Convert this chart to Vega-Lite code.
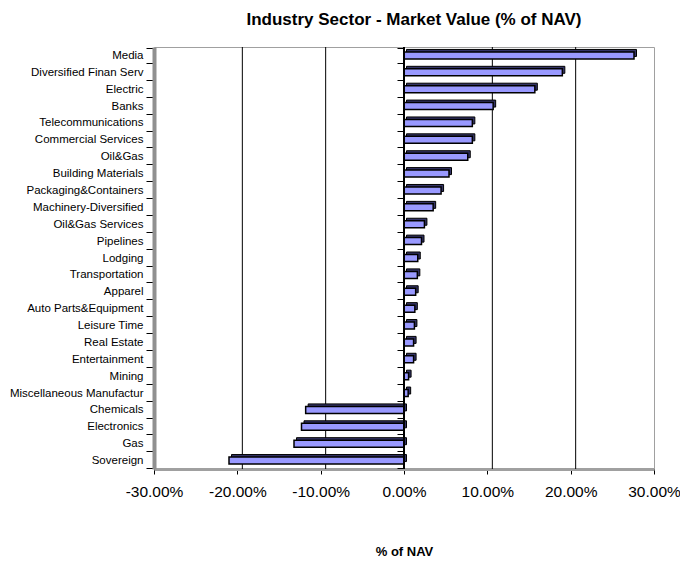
{
  "$schema": "https://vega.github.io/schema/vega-lite/v6.json",
  "width": 500,
  "height": 422,
  "autosize": {"type": "none"},
  "padding": {"left": 154, "top": 47, "right": 26, "bottom": 92},
  "background": "white",
  "config": {
    "font": "Liberation Sans",
    "view": {"stroke": "#a0a0a0", "strokeWidth": 1}
  },
  "title": {
    "text": "Industry Sector - Market Value (% of NAV)",
    "fontSize": 17,
    "fontWeight": "bold",
    "font": "Liberation Sans",
    "color": "black",
    "offset": 12,
    "dx": 10,
    "anchor": "middle"
  },
  "datasets": {
    "sectors": [
      {"sector": "Media", "value": 0.276},
      {"sector": "Diversified Finan Serv", "value": 0.190},
      {"sector": "Electric", "value": 0.157},
      {"sector": "Banks", "value": 0.107},
      {"sector": "Telecommunications", "value": 0.082},
      {"sector": "Commercial Services", "value": 0.082},
      {"sector": "Oil&Gas", "value": 0.0765},
      {"sector": "Building Materials", "value": 0.054},
      {"sector": "Packaging&Containers", "value": 0.0445},
      {"sector": "Machinery-Diversified", "value": 0.035},
      {"sector": "Oil&Gas Services", "value": 0.0245},
      {"sector": "Pipelines", "value": 0.021},
      {"sector": "Lodging", "value": 0.0165},
      {"sector": "Transportation", "value": 0.016},
      {"sector": "Apparel", "value": 0.014},
      {"sector": "Auto Parts&Equipment", "value": 0.013},
      {"sector": "Leisure Time", "value": 0.0125},
      {"sector": "Real Estate", "value": 0.0115},
      {"sector": "Entertainment", "value": 0.0115},
      {"sector": "Mining", "value": 0.0055},
      {"sector": "Miscellaneous Manufactur", "value": 0.005},
      {"sector": "Chemicals", "value": -0.118},
      {"sector": "Electronics", "value": -0.123},
      {"sector": "Gas", "value": -0.132},
      {"sector": "Sovereign", "value": -0.210}
    ],
    "grid": [{"v": -0.2}, {"v": -0.1}, {"v": 0.1}, {"v": 0.2}]
  },
  "resolve": {"axis": {"y": "independent"}},
  "layer": [
    {
      "data": {"name": "grid"},
      "mark": {"type": "rule", "color": "black", "strokeWidth": 1, "xOffset": 5},
      "encoding": {
        "x": {
          "field": "v",
          "type": "quantitative",
          "scale": {"domain": [-0.3, 0.3], "nice": false},
          "axis": {
            "values": [-0.3, -0.2, -0.1, 0, 0.1, 0.2, 0.3],
            "labelExpr": "(datum.value < 0 ? '-' : '') + format(abs(datum.value), '.2%')",
            "grid": false,
            "labelFlush": false,
            "labelOverlap": false,
            "title": "% of NAV",
            "titleFontSize": 13,
            "titleFontWeight": "bold",
            "titleColor": "black",
            "titlePadding": 46,
            "labelFontSize": 15.5,
            "labelColor": "black",
            "labelPadding": 10,
            "tickColor": "black",
            "tickSize": 5,
            "domainColor": "#a0a0a0",
            "domainWidth": 3
          }
        }
      }
    },
    {
      "data": {"name": "sectors"},
      "mark": {"type": "bar", "fill": "#333366", "stroke": "black", "strokeWidth": 1, "size": 7, "xOffset": 2.5, "x2Offset": 2.5, "yOffset": -2.5, "y2Offset": -2.5},
      "encoding": {
        "x": {"field": "value", "type": "quantitative"},
        "y": {
          "field": "sector",
          "type": "nominal",
          "sort": null,
          "axis": {
            "orient": "left",
            "title": null,
            "labelFontSize": 11.5,
            "labelColor": "black",
            "labelPadding": 3,
            "tickColor": "black",
            "tickSize": 8,
            "tickBand": "extent",
            "domainColor": "#909090",
            "domainWidth": 4
          }
        }
      }
    },
    {
      "data": {"name": "sectors"},
      "mark": {"type": "bar", "fill": "#9999FF", "stroke": "black", "strokeWidth": 1.5, "size": 7},
      "encoding": {
        "x": {"field": "value", "type": "quantitative"},
        "y": {
          "field": "sector",
          "type": "nominal",
          "sort": null,
          "axis": {
            "orient": "left",
            "offset": -250,
            "title": null,
            "labels": false,
            "domain": false,
            "tickColor": "black",
            "tickSize": 7,
            "tickBand": "extent"
          }
        }
      }
    },
    {
      "data": {"values": [{"z": 0}]},
      "mark": {"type": "rule", "color": "black", "strokeWidth": 2},
      "encoding": {"x": {"field": "z", "type": "quantitative"}}
    }
  ]
}
